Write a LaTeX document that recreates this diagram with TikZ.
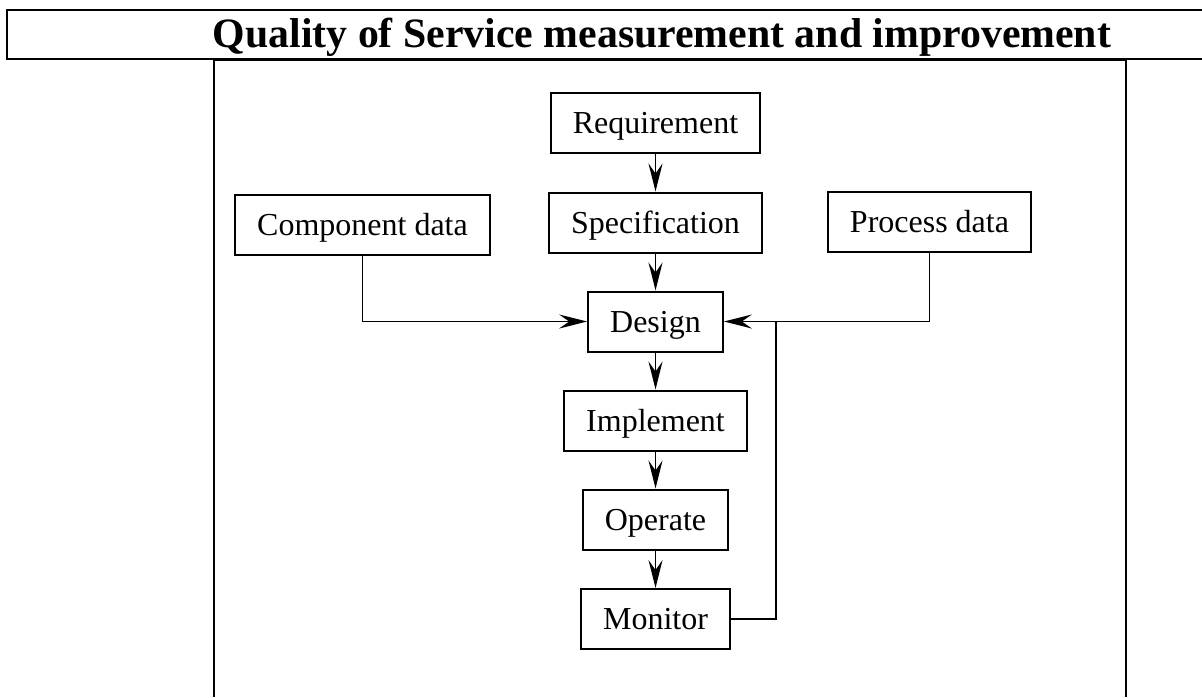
\documentclass[tikz,border=0pt]{standalone}
\usepackage{fontspec}
\setmainfont{Liberation Serif}
\usetikzlibrary{arrows.meta}

\begin{document}
\begin{tikzpicture}[x=0.5pt, y=-0.5pt, line width=0.75pt, >={Stealth[length=14pt,width=7pt,inset=5pt]}, box node/.style={draw, line width=1pt, inner xsep=11pt, minimum height=30pt, text height=12pt, text depth=1.5pt, font=\fontsize{16}{19}\selectfont}, title node/.style={anchor=base, font=\bfseries\fontsize{20.9}{24}\selectfont}]
\useasboundingbox (0,0) rectangle (1202,697);
% frames
\draw[line width=1.2pt] (1202,10) -- (7,10) -- (7,59) -- (1202,59);
\draw[line width=1.2pt] (214,697) -- (214,60) -- (1126,60) -- (1126,697);
\node[title node] (0) at (662,47) {Quality of Service measurement and improvement};
\node[box node] (1) at (655.5,122.5) {Requirement};
\node[box node] (2) at (655.5,222.5) {Specification};
\node[box node] (3) at (362.5,224.5) {Component data};
\node[box node] (4) at (929.5,221.5) {Process data};
\node[box node] (5) at (655.5,321.5) {Design};
\node[box node] (6) at (655.5,420.5) {Implement};
\node[box node] (7) at (655.5,519.5) {Operate};
\node[box node] (8) at (655.5,619) {Monitor};
\coordinate (9) at (776,321.5);
\path[->]
(1) edge (2)
(2) edge (5)
(5) edge (6)
(6) edge (7)
(7) edge (8);
\draw[->] (3.south) |- (5.west);
\draw[->] (4.south) |- (5.east);
\draw (8.east) -| (9);
\end{tikzpicture}
\end{document}
